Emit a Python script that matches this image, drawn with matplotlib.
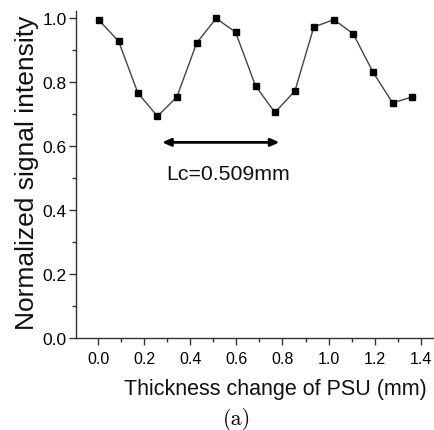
import matplotlib
matplotlib.use("Agg")
import matplotlib.pyplot as plt
from matplotlib.ticker import MultipleLocator

thickness = [0.003, 0.088, 0.172, 0.257, 0.341, 0.428, 0.512, 0.596, 0.683,
             0.767, 0.854, 0.936, 1.023, 1.107, 1.193, 1.278, 1.362]
intensity = [0.994, 0.929, 0.767, 0.694, 0.754, 0.924, 1.000, 0.957, 0.789,
             0.706, 0.773, 0.973, 0.996, 0.952, 0.832, 0.736, 0.754]
arrow_x = [0.277, 0.787]
arrow_y = 0.6125
note = "Lc=0.509mm"
xticks = [0.0, 0.2, 0.4, 0.6, 0.8, 1.0, 1.2, 1.4]
yticks = [0.0, 0.2, 0.4, 0.6, 0.8, 1.0]

W, H = 434, 431
fig = plt.figure(figsize=(W / 100, H / 100), dpi=100)
ax = fig.add_axes([75.7 / W, 1 - 339.3 / H, (434 - 75.7) / W, (339.3 - 11.7) / H])

sans = ["Liberation Sans", "DejaVu Sans"]

ax.plot(thickness, intensity, color="#444444", lw=1.0, marker="s", ms=4.8,
        mfc="black", mec="black", zorder=3)

ax.annotate("", xy=(arrow_x[1], arrow_y), xytext=(arrow_x[0], arrow_y),
            arrowprops=dict(arrowstyle="<|-|>,head_length=0.5,head_width=0.22",
                            color="black", lw=2.0, shrinkA=0, shrinkB=0))
ax.text(0.565, 0.516, note, ha="center", va="center", fontsize=15.3,
        family=sans, color="#111111")

ax.set_xlim(-0.098, 1.458)
ax.set_ylim(0, 1.024)
ax.set_xticks(xticks)
ax.set_yticks(yticks)
ax.set_xticklabels([f"{v:.1f}" for v in xticks], family=sans, fontsize=11.5)
ax.set_yticklabels([f"{v:.1f}" for v in yticks], family=sans, fontsize=12.5)
ax.xaxis.set_minor_locator(MultipleLocator(0.1))
ax.yaxis.set_minor_locator(MultipleLocator(0.1))
ax.tick_params(which="major", direction="out", length=5, width=1.0, color="#333333")
ax.tick_params(which="minor", direction="out", length=3, width=1.0, color="#333333")
ax.tick_params(axis="x", which="major", pad=4)
ax.tick_params(axis="y", which="major", pad=1.5)

for s in ["top", "right"]:
    ax.spines[s].set_visible(False)
for s in ["left", "bottom"]:
    ax.spines[s].set_color("#333333")
    ax.spines[s].set_linewidth(1.0)

ax.set_xlabel("Thickness change of PSU (mm)", family=sans, fontsize=15.5, color="#111111")
ax.xaxis.set_label_coords((275.5 - 75.7) / (434 - 75.7), (339.3 - 389) / (339.3 - 11.7))
ax.xaxis.label.set_va("center")
ax.set_ylabel("Normalized signal intensity", family=sans, fontsize=19, color="#111111")
ax.yaxis.set_label_coords((27 - 75.7) / (434 - 75.7), (339.3 - 173) / (339.3 - 11.7))
ax.yaxis.label.set_va("center")

fig.text(237 / W, 1 - 420 / H, "(a)", ha="center", va="center", fontsize=16,
         family=["cmr10", "DejaVu Serif"])

fig.savefig("out.png", dpi=100)
